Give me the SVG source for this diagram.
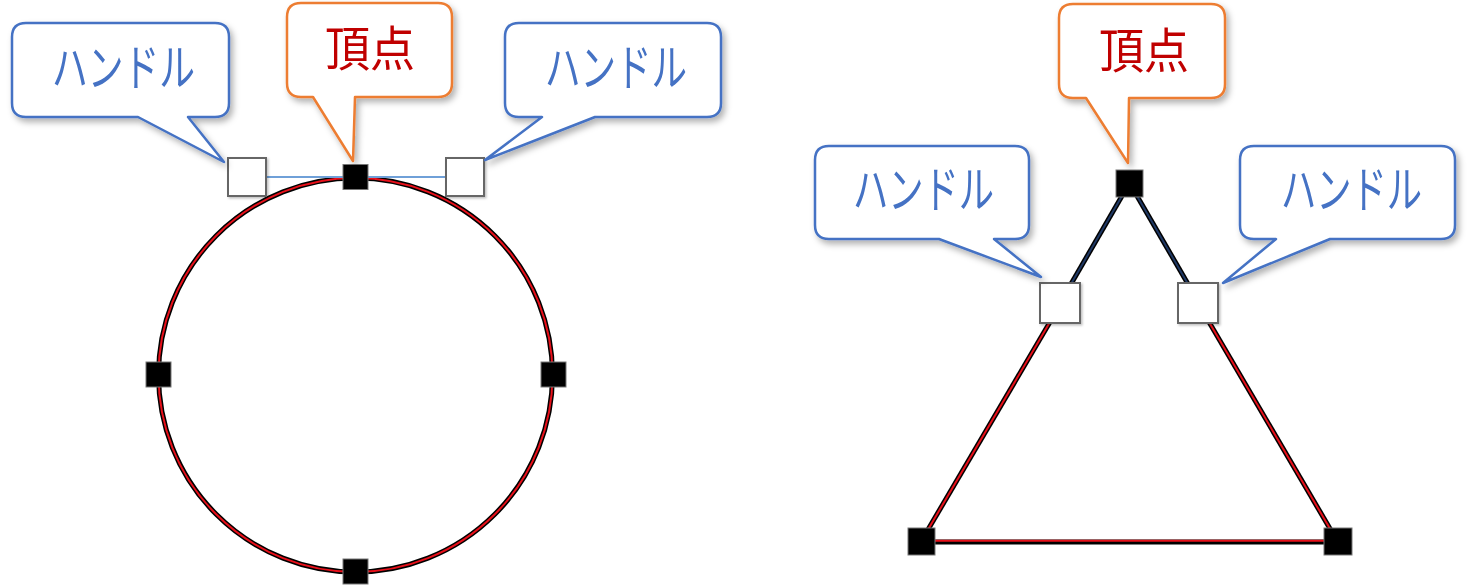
<svg xmlns="http://www.w3.org/2000/svg" width="1470" height="588" viewBox="0 0 1470 588">
  <defs>
    <filter id="sh" x="-20%" y="-20%" width="140%" height="150%">
      <feDropShadow dx="3" dy="4" stdDeviation="3" flood-color="#000" flood-opacity="0.3"/>
    </filter>
    <filter id="sh2" x="-30%" y="-30%" width="160%" height="160%">
      <feDropShadow dx="1.5" dy="1.5" stdDeviation="1.2" flood-color="#000" flood-opacity="0.25"/>
    </filter>
  </defs>
  <style>
    .cb { fill: #fff; stroke: #4472C4; stroke-width: 2.5; stroke-linejoin: round; }
    .co { fill: #fff; stroke: #ED7D31; stroke-width: 2.5; stroke-linejoin: round; }
    .tb { font-family: "Noto Sans CJK JP", "Noto Sans", sans-serif; font-size: 50px; fill: #4472C4; text-anchor: middle; }
    .tr { font-family: "Noto Sans CJK JP", "Noto Sans", sans-serif; font-size: 48px; fill: #C00000; text-anchor: middle; }
    .outer { fill: none; stroke: #000; stroke-width: 5; }
    .red { fill: none; stroke: #E8101A; stroke-width: 2; }
    .navy { fill: none; stroke: #1F3864; stroke-width: 2; }
    .v { fill: #000; stroke: #777; stroke-width: 1; }
    .h { fill: #fff; stroke: #666; stroke-width: 2; }
  </style>

  <g id="connectors">
    <circle cx="355.5" cy="375" r="197" class="outer"/>
    <circle cx="355.5" cy="375" r="197" class="red"/>
    <line x1="266" y1="177" x2="446" y2="177" stroke="#6FA0D8" stroke-width="2"/>
    <line x1="1129.5" y1="183" x2="1071" y2="284" class="outer"/>
    <line x1="1129.5" y1="183" x2="1071" y2="284" class="navy"/>
    <line x1="1129.5" y1="183" x2="1188" y2="284" class="outer"/>
    <line x1="1129.5" y1="183" x2="1188" y2="284" class="navy"/>
    <line x1="1050" y1="322" x2="921" y2="541.5" class="outer"/>
    <line x1="1050" y1="322" x2="921" y2="541.5" class="red"/>
    <line x1="1209" y1="322" x2="1337.5" y2="541.5" class="outer"/>
    <line x1="1209" y1="322" x2="1337.5" y2="541.5" class="red"/>
    <line x1="921" y1="542" x2="1337.5" y2="542" class="outer"/>
    <line x1="921" y1="540.8" x2="1337.5" y2="540.8" class="red"/>
  </g>

  <g id="vertex-top-L"><rect x="343" y="164.5" width="25" height="25" class="v"/></g>
  <g id="vertex-left-L"><rect x="146" y="362" width="25" height="25" class="v"/></g>
  <g id="vertex-right-L"><rect x="541" y="362" width="25" height="25" class="v"/></g>
  <g id="vertex-bottom-L"><rect x="343" y="559" width="25" height="25" class="v"/></g>
  <g id="handle-left-L"><rect x="228" y="158" width="38" height="38" class="h" filter="url(#sh2)"/></g>
  <g id="handle-right-L"><rect x="446" y="158" width="38" height="38" class="h" filter="url(#sh2)"/></g>

  <g id="callout-handle-L1" filter="url(#sh)">
    <path class="cb" d="M26,23 H215 Q229,23 229,37 V103 Q229,117 215,117 H188 L224,162 L138,117 H26 Q12,117 12,103 V37 Q12,23 26,23 Z"/>
    <text x="123.5" y="86" class="tb" textLength="143" lengthAdjust="spacingAndGlyphs">ハンドル</text>
  </g>
  <g id="callout-vertex-L" filter="url(#sh)">
    <path class="co" d="M301,3 H438 Q452,3 452,17 V83 Q452,97 438,97 H355 L353,161 L313,97 H301 Q287,97 287,83 V17 Q287,3 301,3 Z"/>
    <text x="370" y="66" class="tr" textLength="90" lengthAdjust="spacingAndGlyphs">頂点</text>
  </g>
  <g id="callout-handle-L2" filter="url(#sh)">
    <path class="cb" d="M519,23 H707 Q721,23 721,37 V103 Q721,117 707,117 H595 L485,160 L542,117 H519 Q505,117 505,103 V37 Q505,23 519,23 Z"/>
    <text x="616" y="86" class="tb" textLength="142" lengthAdjust="spacingAndGlyphs">ハンドル</text>
  </g>

  <g id="vertex-top-R"><rect x="1116" y="170" width="27" height="27" class="v"/></g>
  <g id="vertex-bl-R"><rect x="908" y="528" width="27" height="27" class="v"/></g>
  <g id="vertex-br-R"><rect x="1324" y="528" width="28" height="27" class="v"/></g>
  <g id="handle-left-R"><rect x="1040" y="283" width="40" height="40" class="h" filter="url(#sh2)"/></g>
  <g id="handle-right-R"><rect x="1178" y="283" width="40" height="40" class="h" filter="url(#sh2)"/></g>

  <g id="callout-vertex-R" filter="url(#sh)">
    <path class="co" d="M1073,4 H1211 Q1225,4 1225,18 V84 Q1225,98 1211,98 H1129 L1128,163 L1086,98 H1073 Q1059,98 1059,84 V18 Q1059,4 1073,4 Z"/>
    <text x="1144" y="68" class="tr" textLength="90" lengthAdjust="spacingAndGlyphs">頂点</text>
  </g>
  <g id="callout-handle-R1" filter="url(#sh)">
    <path class="cb" d="M829,146 H1015 Q1029,146 1029,160 V225 Q1029,239 1015,239 H994 L1041,277 L939,239 H829 Q815,239 815,225 V160 Q815,146 829,146 Z"/>
    <text x="923.5" y="208" class="tb" textLength="141" lengthAdjust="spacingAndGlyphs">ハンドル</text>
  </g>
  <g id="callout-handle-R2" filter="url(#sh)">
    <path class="cb" d="M1254,146 H1441 Q1455,146 1455,160 V225 Q1455,239 1441,239 H1330 L1223,283 L1276,239 H1254 Q1240,239 1240,225 V160 Q1240,146 1254,146 Z"/>
    <text x="1351.5" y="208" class="tb" textLength="141" lengthAdjust="spacingAndGlyphs">ハンドル</text>
  </g>
</svg>
